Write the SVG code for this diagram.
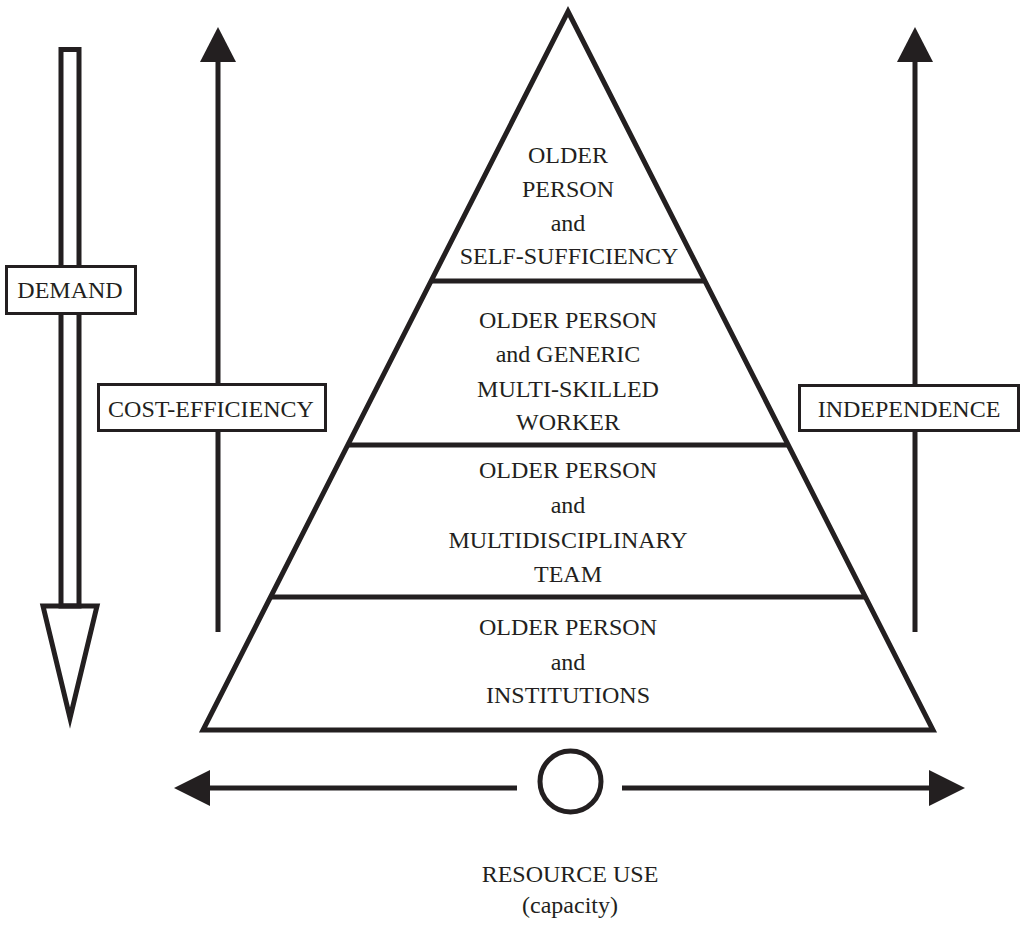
<svg xmlns="http://www.w3.org/2000/svg" width="1022" height="926" viewBox="0 0 1022 926">
  <style>
    .ln { stroke: #231f20; stroke-width: 5; fill: none; }
    .head { fill: #231f20; stroke: none; }
    .box { fill: #ffffff; stroke: #231f20; stroke-width: 3; }
    .lbl { font-family: "Liberation Serif", "DejaVu Serif", serif; font-size: 24px; fill: #231f20; text-anchor: middle; }
  </style>
  <rect width="1022" height="926" fill="#ffffff"/>

  <!-- connectors: side arrows and resource-use axis -->
  <g id="connectors">
    <!-- demand: hollow downward arrow -->
    <g id="demand-arrow">
      <rect class="ln" x="61" y="49.5" width="18" height="556.5"/>
      <polygon class="ln" fill="#ffffff" stroke-linejoin="miter" stroke-miterlimit="10" points="43,606 97,606 70,718"/>
    </g>
    <!-- cost-efficiency: upward arrow -->
    <g id="cost-arrow">
      <line class="ln" x1="218" y1="58" x2="218" y2="632"/>
      <polygon class="head" points="218,27 200,62 236,62"/>
    </g>
    <!-- independence: upward arrow -->
    <g id="independence-arrow">
      <line class="ln" x1="915" y1="58" x2="915" y2="632"/>
      <polygon class="head" points="915,27 897,62 933,62"/>
    </g>
    <!-- resource use: double-headed horizontal axis -->
    <g id="resource-axis">
      <line class="ln" x1="205" y1="788" x2="517" y2="788"/>
      <line class="ln" x1="622" y1="788" x2="934" y2="788"/>
      <polygon class="head" points="174,788 210,770 210,806"/>
      <polygon class="head" points="965,788 929,770 929,806"/>
    </g>
  </g>

  <!-- pyramid outline and tier dividers -->
  <g id="pyramid">
    <polygon class="ln" stroke-linejoin="miter" points="568,11.5 933,730 203,730"/>
    <line class="ln" x1="431" y1="281" x2="705" y2="281"/>
    <line class="ln" x1="348" y1="445" x2="788" y2="445"/>
    <line class="ln" x1="271" y1="597" x2="865" y2="597"/>
  </g>

  <g id="tier-self-sufficiency">
    <text class="lbl" x="568" y="163">OLDER</text>
    <text class="lbl" x="568" y="197">PERSON</text>
    <text class="lbl" x="568" y="231">and</text>
    <text class="lbl" x="569" y="264">SELF-SUFFICIENCY</text>
  </g>

  <g id="tier-generic-worker">
    <text class="lbl" x="568" y="328">OLDER PERSON</text>
    <text class="lbl" x="568" y="362">and GENERIC</text>
    <text class="lbl" x="568" y="397">MULTI-SKILLED</text>
    <text class="lbl" x="568" y="430">WORKER</text>
  </g>

  <g id="tier-multidisciplinary">
    <text class="lbl" x="568" y="478">OLDER PERSON</text>
    <text class="lbl" x="568" y="513">and</text>
    <text class="lbl" x="568" y="548">MULTIDISCIPLINARY</text>
    <text class="lbl" x="568" y="582">TEAM</text>
  </g>

  <g id="tier-institutions">
    <text class="lbl" x="568" y="635">OLDER PERSON</text>
    <text class="lbl" x="568" y="670">and</text>
    <text class="lbl" x="568" y="703">INSTITUTIONS</text>
  </g>

  <g id="label-demand">
    <rect class="box" x="6.5" y="266.5" width="129" height="47"/>
    <text class="lbl" x="70" y="298">DEMAND</text>
  </g>

  <g id="label-cost-efficiency">
    <rect class="box" x="98.5" y="384.5" width="227" height="46"/>
    <text class="lbl" x="211" y="417">COST-EFFICIENCY</text>
  </g>

  <g id="label-independence">
    <rect class="box" x="799.5" y="385.5" width="219" height="45"/>
    <text class="lbl" x="909" y="417">INDEPENDENCE</text>
  </g>

  <g id="resource-use">
    <circle class="ln" cx="570.5" cy="781.5" r="30.5"/>
    <text class="lbl" x="570" y="882">RESOURCE USE</text>
    <text class="lbl" x="570" y="913">(capacity)</text>
  </g>
</svg>
